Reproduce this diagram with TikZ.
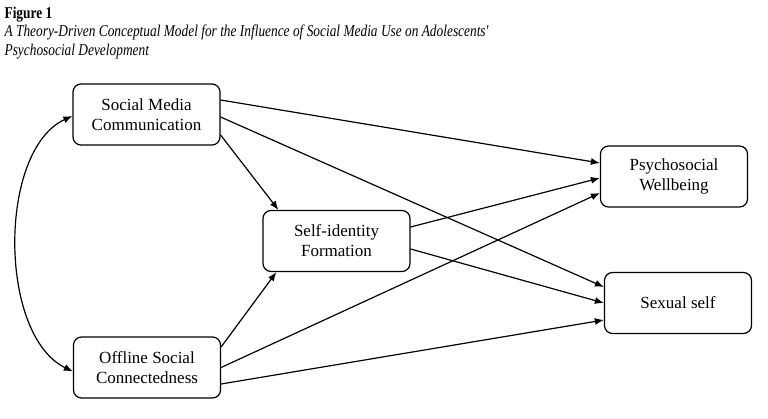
\documentclass[tikz,border=0pt]{standalone}
\usepackage{fontspec}
\setmainfont{Liberation Serif}
\newfontfamily\capfont[FakeStretch=0.81]{Liberation Serif}
\usepackage{tikz}
\usetikzlibrary{arrows.meta}

\begin{document}
\begin{tikzpicture}[x=1pt, y=-1pt, -{Latex[length=9pt,width=7pt]}, line width=1.2pt,
  varbox/.style={draw, rounded corners=8pt, minimum width=147pt, minimum height=61pt, align=center, inner sep=2pt, font=\fontsize{17}{20}\selectfont},
  every node/.style={-}]

  \useasboundingbox (0,0) rectangle (768,419);

  % caption
  \node[anchor=base west, inner sep=0pt, font=\capfont\bfseries\fontsize{16.5}{19}\selectfont] (fig) at (4,19) {Figure 1};
  \node[anchor=base west, inner sep=0pt, font=\capfont\itshape\fontsize{16.5}{19}\selectfont] (cap1) at (4,37) {A Theory-Driven Conceptual Model for the Influence of Social Media Use on Adolescents'};
  \node[anchor=base west, inner sep=0pt, font=\capfont\itshape\fontsize{16.5}{19}\selectfont] (cap2) at (4,55.5) {Psychosocial Development};

  % variables
  \node[varbox] (smc) at (146.5,114.5) {Social Media\\Communication};
  \node[varbox] (osc) at (147,367.5) {Offline Social\\Connectedness};
  \node[varbox] (sif) at (336.5,241) {Self-identity\\Formation};
  \node[varbox] (pw) at (674,176.5) {Psychosocial\\Wellbeing};
  \node[varbox] (ss) at (678,303) {Sexual self};

  \path
    ([yshift=14.5pt]smc.east) edge ([yshift=13.5pt]pw.west)
    ([yshift=-2.5pt]smc.east) edge ([yshift=16pt]ss.west)
    ([yshift=-20.5pt]smc.east) edge ([xshift=16pt]sif.north west)
    ([yshift=14pt]sif.east) edge ([yshift=-1.5pt]pw.west)
    ([yshift=-8pt]sif.east) edge (ss.west)
    ([yshift=20.5pt]osc.east) edge ([xshift=14pt]sif.south west)
    (osc.east) edge ([yshift=-16.5pt]pw.west)
    ([yshift=-16.5pt]osc.east) edge ([yshift=-17pt]ss.west)
  ;

  % correlation
  \draw[{Latex[length=9pt,width=7pt]}-{Latex[length=9pt,width=7pt]}] ([yshift=-1.5pt]smc.west) .. controls (-2,150) and (-2,335) .. ([yshift=-4pt]osc.west);
\end{tikzpicture}
\end{document}
